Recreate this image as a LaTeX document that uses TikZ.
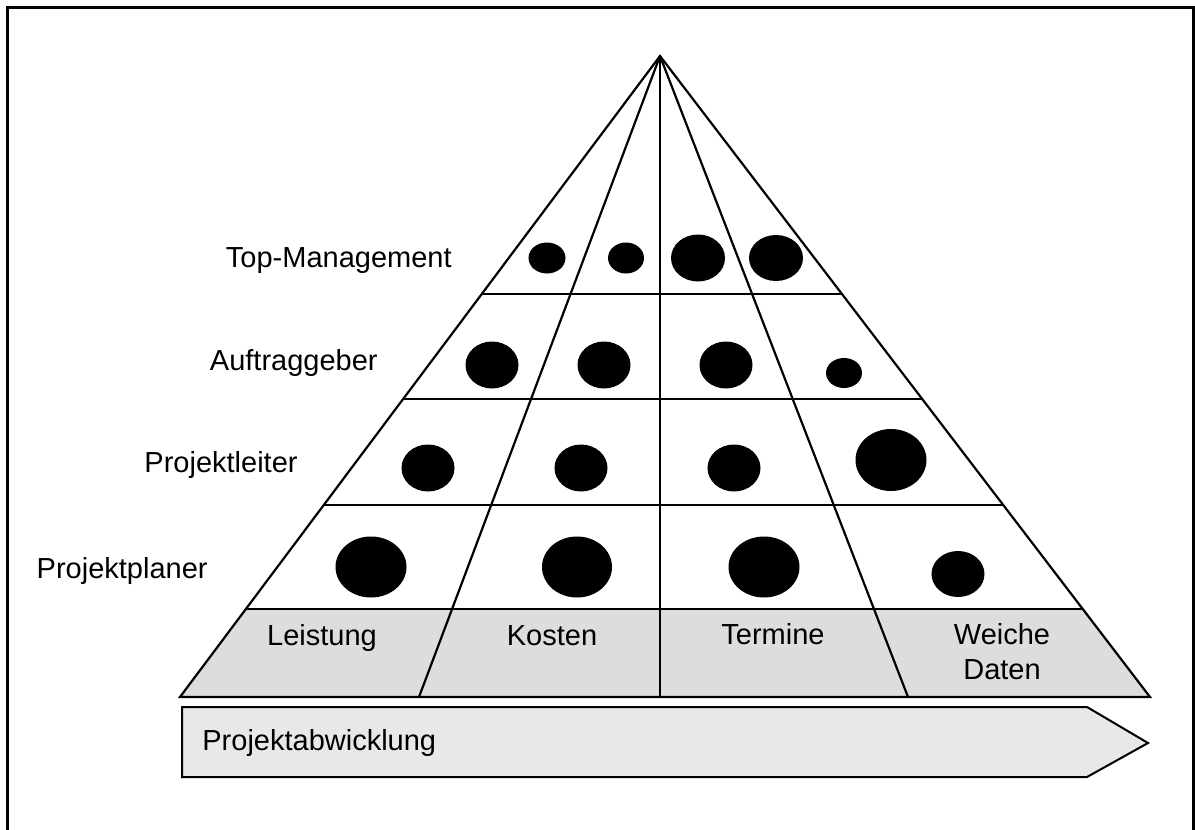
\documentclass[tikz,border=0pt]{standalone}
\usepackage{fontspec}
\setmainfont{Liberation Sans}
\usetikzlibrary{calc}
\definecolor{bandgray}{HTML}{DDDDDD}
\definecolor{arrowgray}{HTML}{E8E8E8}
\tikzset{
  grid line/.style={line width=1.1pt, black},
  lbl/.style={inner sep=0pt, font=\fontsize{14.5}{17}\selectfont},
  dot/.style={fill=black},
}
\begin{document}
\begin{tikzpicture}[x=0.5pt, y=-0.5pt]
\clip (0,0) rectangle (1195,830);
\useasboundingbox (0,0) rectangle (1195,830);
\fill[white] (0,0) rectangle (1195,830);
% outer frame
\draw[line width=1.5pt] (7,7) rectangle (1193,860);
% key points
\coordinate (apex) at (660,56);
\coordinate (bl) at (180,697);
\coordinate (b1) at (419,697);
\coordinate (b2) at (660,697);
\coordinate (b3) at (908,697);
\coordinate (br) at (1150,697);
% gray band
\fill[bandgray] ($(apex)!0.8627!(bl)$) -- ($(apex)!0.8627!(br)$) -- (br) -- (bl) -- cycle;
% pyramid
\draw[grid line, line join=miter] (bl) -- (apex) -- (br) -- cycle;
\draw[grid line] (apex) -- (b1);
\draw[grid line] (apex) -- (b2);
\draw[grid line] (apex) -- (b3);
\foreach \t in {0.3713,0.5351,0.7005,0.8627}
  \draw[grid line] ($(apex)!\t!(bl)$) -- ($(apex)!\t!(br)$);
% dots row 1
\fill[dot] (547,258) ellipse [x radius=18.5, y radius=15.5];
\fill[dot] (626,258) ellipse [x radius=18, y radius=15.5];
\fill[dot] (698,258) ellipse [x radius=27, y radius=23.5];
\fill[dot] (776,258) ellipse [x radius=27, y radius=23];
% row 2
\fill[dot] (492,365) ellipse [x radius=26.5, y radius=23.5];
\fill[dot] (604,365) ellipse [x radius=26.5, y radius=23.5];
\fill[dot] (726,365) ellipse [x radius=26.5, y radius=23.5];
\fill[dot] (844,373) ellipse [x radius=18, y radius=15];
% row 3
\fill[dot] (428,468) ellipse [x radius=26.5, y radius=23.5];
\fill[dot] (581,468) ellipse [x radius=26.5, y radius=23.5];
\fill[dot] (734,468) ellipse [x radius=26.5, y radius=23.5];
\fill[dot] (891,460) ellipse [x radius=35.5, y radius=31];
% row 4
\fill[dot] (371,567) ellipse [x radius=35.5, y radius=30.5];
\fill[dot] (577,567) ellipse [x radius=35, y radius=30.5];
\fill[dot] (764,567) ellipse [x radius=35.5, y radius=30.5];
\fill[dot] (958,574) ellipse [x radius=26.5, y radius=23];
% left labels
\node[lbl, anchor=base east] (top) at (452,267) {Top-Management};
\node[lbl, anchor=base east] (auf) at (378,370) {Auftraggeber};
\node[lbl, anchor=base east] (pl) at (298,472) {Projektleiter};
\node[lbl, anchor=base east] (pp) at (208,578) {Projektplaner};
% band labels
\node[lbl, anchor=base] (leistung) at (322,645) {Leistung};
\node[lbl, anchor=base] (kosten) at (552,645) {Kosten};
\node[lbl, anchor=base] (termine) at (773,644) {Termine};
\node[lbl, anchor=base] (weiche) at (1002,644) {Weiche};
\node[lbl, anchor=base] (daten) at (1002,679) {Daten};
% process arrow
\draw[line width=1pt, fill=arrowgray, line join=miter]
  (182,707) -- (1087,707) -- (1148,743) -- (1087,777) -- (182,777) -- cycle;
\node[lbl, anchor=base west] (abw) at (202,750) {Projektabwicklung};
\end{tikzpicture}
\end{document}
